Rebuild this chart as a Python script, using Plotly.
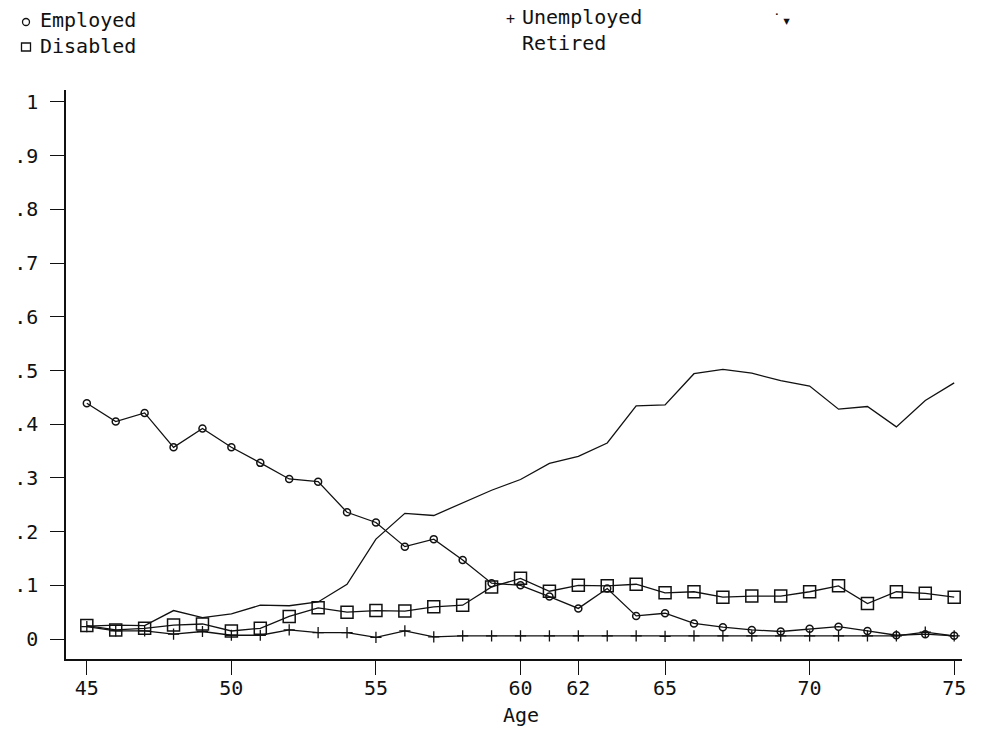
import plotly.graph_objects as go

# Share of people in each labour-market state, by age
ages = list(range(45, 76))

employed = [0.439, 0.405, 0.421, 0.357, 0.392, 0.357, 0.328, 0.298, 0.293, 0.236,
            0.217, 0.172, 0.186, 0.147, 0.104, 0.100, 0.079, 0.057, 0.094, 0.043,
            0.048, 0.029, 0.022, 0.017, 0.014, 0.019, 0.023, 0.015, 0.007, 0.009,
            0.006]

unemployed = [0.023, 0.015, 0.015, 0.009, 0.014, 0.007, 0.007, 0.017, 0.012, 0.012,
              0.003, 0.015, 0.004, 0.006, 0.006, 0.006, 0.006, 0.006, 0.006, 0.006,
              0.005, 0.006, 0.006, 0.006, 0.006, 0.006, 0.006, 0.006, 0.006, 0.013,
              0.006]

disabled = [0.025, 0.017, 0.020, 0.026, 0.028, 0.015, 0.020, 0.042, 0.058, 0.050,
            0.053, 0.052, 0.060, 0.063, 0.097, 0.113, 0.089, 0.100, 0.099, 0.102,
            0.086, 0.088, 0.078, 0.080, 0.080, 0.088, 0.099, 0.066, 0.088, 0.085,
            0.078]

retired = [0.024, 0.026, 0.025, 0.053, 0.040, 0.047, 0.063, 0.062, 0.069, 0.102,
           0.186, 0.234, 0.230, 0.253, 0.277, 0.297, 0.327, 0.340, 0.365, 0.434,
           0.436, 0.494, 0.502, 0.495, 0.481, 0.471, 0.428, 0.433, 0.395, 0.444,
           0.477]

x_ticks = [45, 50, 55, 60, 62, 65, 70, 75]
y_ticks = [0, 0.1, 0.2, 0.3, 0.4, 0.5, 0.6, 0.7, 0.8, 0.9, 1.0]
y_ticktext = ["0", ".1", ".2", ".3", ".4", ".5", ".6", ".7", ".8", ".9", "1"]

FONT = "DejaVu Sans Mono"
INK = "#111111"
W, H = 982, 731
ML, MR, MT, MB = 66, 20, 90, 72
PW, PH = W - ML - MR, H - MT - MB


def px(xp):
    return (xp - ML) / PW


def py(yp):
    return (H - MB - yp) / PH


fig = go.Figure()

line = dict(color=INK, width=1.3)

fig.add_trace(go.Scatter(x=ages, y=retired, mode="lines", line=line, name="Retired"))
fig.add_trace(go.Scatter(x=ages, y=unemployed, mode="lines+markers", line=line,
                         marker=dict(symbol="cross-thin-open", size=8,
                                     line=dict(color=INK, width=1.3)),
                         name="Unemployed"))
fig.add_trace(go.Scatter(x=ages, y=disabled, mode="lines+markers", line=line,
                         marker=dict(symbol="square-open", size=12, color=INK,
                                     line=dict(color=INK, width=1.5)),
                         name="Disabled"))
fig.add_trace(go.Scatter(x=ages, y=employed, mode="lines+markers", line=line,
                         marker=dict(symbol="circle-open", size=7, color=INK,
                                     line=dict(color=INK, width=1.5)),
                         name="Employed"))

axis_common = dict(showline=True, linecolor=INK, linewidth=1.5, ticks="outside",
                   ticklen=14, tickwidth=1.3, tickcolor=INK, showgrid=False,
                   zeroline=False, tickfont=dict(family=FONT, size=20, color=INK))

fig.update_xaxes(range=[44.28, 75.27], tickvals=x_ticks,
                 ticktext=[str(v) for v in x_ticks], ticklabelstandoff=-4,
                 **axis_common)
fig.update_yaxes(range=[-0.0372, 1.0223], tickvals=y_ticks, ticktext=y_ticktext,
                 ticklabelstandoff=8, **axis_common)

annotations = []
shapes = []


def label(text, xp, yp, size=20, anchor="left"):
    annotations.append(dict(text=text, x=px(xp), y=py(yp), xref="paper", yref="paper",
                            xanchor=anchor, yanchor="middle", showarrow=False,
                            font=dict(family=FONT, size=size, color=INK)))


# key
shapes.append(dict(type="circle", xref="paper", yref="paper", xsizemode="pixel",
                   ysizemode="pixel", xanchor=px(26), yanchor=py(22),
                   x0=-3.5, x1=3.5, y0=-3.5, y1=3.5, line=dict(color=INK, width=1.3)))
shapes.append(dict(type="rect", xref="paper", yref="paper", xsizemode="pixel",
                   ysizemode="pixel", xanchor=px(26), yanchor=py(47),
                   x0=-4.5, x1=4.5, y0=-4, y1=4, line=dict(color=INK, width=1.3)))
label("Employed", 38, 20)
label("Disabled", 38, 46)
label("+", 510, 19, size=15, anchor="center")
label("Unemployed", 520, 17)
label("Retired", 520, 43)
label("˙▾", 781, 20, size=16, anchor="center")

# axis title
label("Age", 521, 715, anchor="center")

fig.update_layout(width=W, height=H, margin=dict(l=ML, r=MR, t=MT, b=MB),
                  paper_bgcolor="white", plot_bgcolor="white", showlegend=False,
                  annotations=annotations, shapes=shapes)

fig.write_html("out.html")
